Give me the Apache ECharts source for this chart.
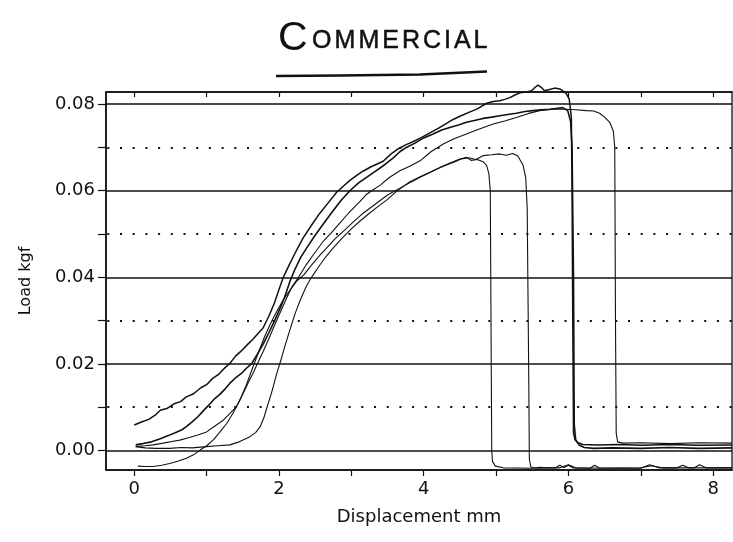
<!DOCTYPE html>
<html>
<head>
<meta charset="utf-8">
<title>Commercial – load vs displacement</title>
<script src="https://cdn.jsdelivr.net/npm/echarts@6/dist/echarts.min.js"></script>
<style>
  html, body { margin: 0; padding: 0; background: #fff; }
  #chart { width: 733px; height: 542px; }
</style>
</head>
<body>
<div id="chart"></div>
<script>
// Tensile runs: [displacement mm, load kgf]
const specimen1 = [[0.00,0.0059],[0.10,0.0066],[0.20,0.0072],[0.30,0.0083],[0.36,0.0093],[0.45,0.0097],[0.55,0.0108],[0.64,0.0113],[0.72,0.0124],[0.82,0.0131],[0.92,0.0145],[1.00,0.0152],[1.08,0.0166],[1.16,0.0175],[1.24,0.0189],[1.32,0.0201],[1.40,0.0218],[1.48,0.0230],[1.56,0.0244],[1.64,0.0257],[1.72,0.0272],[1.78,0.0283],[1.86,0.0310],[1.94,0.0342],[2.00,0.0372],[2.06,0.0400],[2.14,0.0428],[2.22,0.0455],[2.33,0.0490],[2.44,0.0518],[2.56,0.0547],[2.68,0.0572],[2.80,0.0597],[2.90,0.0612],[2.98,0.0624],[3.08,0.0636],[3.16,0.0645],[3.28,0.0656],[3.44,0.0668],[3.55,0.0685],[3.65,0.0697],[3.75,0.0706],[3.85,0.0713],[3.96,0.0722],[4.08,0.0733],[4.20,0.0744],[4.31,0.0755],[4.40,0.0764],[4.50,0.0772],[4.64,0.0782],[4.74,0.0789],[4.87,0.0802],[4.96,0.0806],[5.05,0.0808],[5.12,0.0811],[5.19,0.0815],[5.26,0.0821],[5.33,0.0826],[5.42,0.0828],[5.49,0.0831],[5.54,0.0839],[5.58,0.0844],[5.63,0.0838],[5.67,0.0831],[5.74,0.0834],[5.81,0.0837],[5.88,0.0835],[5.92,0.0831],[5.97,0.0824],[6.01,0.0812],[6.04,0.0770],[6.05,0.0600],[6.06,0.0300],[6.07,0.0040],[6.09,0.0025],[6.13,0.0018],[6.20,0.0014],[6.40,0.0013],[6.70,0.0014],[7.00,0.0012],[7.40,0.0014],[7.80,0.0012],[8.26,0.0013]];

const specimen2 = [[0.02,0.0013],[0.12,0.0016],[0.24,0.0020],[0.36,0.0027],[0.48,0.0035],[0.59,0.0043],[0.66,0.0048],[0.72,0.0055],[0.80,0.0066],[0.88,0.0078],[0.95,0.0091],[1.02,0.0103],[1.10,0.0118],[1.18,0.0129],[1.26,0.0143],[1.32,0.0155],[1.40,0.0168],[1.48,0.0178],[1.55,0.0190],[1.62,0.0200],[1.70,0.0222],[1.78,0.0245],[1.86,0.0272],[1.94,0.0300],[2.02,0.0330],[2.08,0.0355],[2.15,0.0390],[2.22,0.0418],[2.30,0.0446],[2.40,0.0472],[2.50,0.0497],[2.62,0.0525],[2.74,0.0552],[2.86,0.0578],[2.98,0.0600],[3.10,0.0618],[3.22,0.0632],[3.34,0.0646],[3.46,0.0660],[3.58,0.0676],[3.67,0.0690],[3.76,0.0700],[3.88,0.0710],[4.00,0.0722],[4.13,0.0731],[4.25,0.0740],[4.36,0.0746],[4.48,0.0752],[4.59,0.0758],[4.70,0.0762],[4.82,0.0767],[4.94,0.0770],[5.05,0.0773],[5.16,0.0776],[5.28,0.0779],[5.40,0.0783],[5.51,0.0785],[5.62,0.0787],[5.74,0.0788],[5.83,0.0790],[5.92,0.0792],[5.99,0.0785],[6.03,0.0760],[6.05,0.0700],[6.07,0.0400],[6.08,0.0060],[6.10,0.0025],[6.15,0.0012],[6.22,0.0007],[6.35,0.0005],[6.60,0.0006],[7.00,0.0005],[7.40,0.0007],[7.80,0.0005],[8.26,0.0006]];

const specimen3 = [[0.02,0.0009],[0.15,0.0011],[0.26,0.0013],[0.40,0.0017],[0.52,0.0021],[0.63,0.0024],[0.76,0.0030],[0.88,0.0036],[1.00,0.0043],[1.10,0.0055],[1.18,0.0064],[1.23,0.0070],[1.32,0.0085],[1.41,0.0101],[1.50,0.0130],[1.57,0.0155],[1.64,0.0178],[1.70,0.0200],[1.78,0.0228],[1.86,0.0258],[1.94,0.0290],[2.02,0.0320],[2.10,0.0350],[2.18,0.0378],[2.27,0.0400],[2.38,0.0430],[2.50,0.0458],[2.62,0.0485],[2.72,0.0502],[2.84,0.0525],[2.96,0.0548],[3.10,0.0572],[3.20,0.0590],[3.28,0.0600],[3.40,0.0613],[3.52,0.0630],[3.67,0.0646],[3.80,0.0656],[3.95,0.0669],[4.10,0.0690],[4.27,0.0708],[4.42,0.0720],[4.59,0.0731],[4.76,0.0742],[4.96,0.0754],[5.12,0.0761],[5.28,0.0769],[5.44,0.0778],[5.60,0.0785],[5.79,0.0788],[5.97,0.0788],[6.10,0.0787],[6.25,0.0785],[6.35,0.0784],[6.43,0.0779],[6.50,0.0770],[6.57,0.0758],[6.62,0.0738],[6.64,0.0700],[6.65,0.0300],[6.66,0.0040],[6.68,0.0020],[6.75,0.0017],[7.00,0.0018],[7.40,0.0016],[7.80,0.0018],[8.26,0.0017]];

const specimen4 = [[0.05,-0.0036],[0.15,-0.0037],[0.26,-0.0037],[0.38,-0.0034],[0.49,-0.0030],[0.60,-0.0025],[0.72,-0.0018],[0.82,-0.0010],[0.91,0.0001],[1.00,0.0011],[1.09,0.0024],[1.18,0.0042],[1.28,0.0063],[1.37,0.0088],[1.46,0.0116],[1.55,0.0152],[1.64,0.0193],[1.72,0.0228],[1.80,0.0262],[1.88,0.0292],[1.96,0.0318],[2.05,0.0345],[2.15,0.0370],[2.25,0.0392],[2.34,0.0405],[2.45,0.0428],[2.56,0.0450],[2.67,0.0470],[2.78,0.0490],[2.90,0.0508],[3.02,0.0527],[3.14,0.0545],[3.26,0.0560],[3.38,0.0575],[3.50,0.0590],[3.67,0.0606],[3.80,0.0618],[3.95,0.0631],[4.10,0.0643],[4.25,0.0656],[4.38,0.0665],[4.50,0.0673],[4.62,0.0676],[4.72,0.0672],[4.82,0.0681],[4.94,0.0683],[5.05,0.0685],[5.14,0.0682],[5.23,0.0686],[5.30,0.0680],[5.37,0.0660],[5.41,0.0630],[5.43,0.0560],[5.45,0.0200],[5.46,-0.0020],[5.48,-0.0038],[5.55,-0.0041],[5.70,-0.0040],[5.82,-0.0040],[5.88,-0.0034],[5.94,-0.0039],[6.00,-0.0034],[6.06,-0.0040],[6.30,-0.0041],[6.36,-0.0034],[6.42,-0.0040],[7.00,-0.0041],[7.12,-0.0033],[7.25,-0.0040],[7.50,-0.0040],[7.58,-0.0034],[7.66,-0.0040],[7.74,-0.0040],[7.81,-0.0033],[7.90,-0.0040],[8.26,-0.0040]];

const specimen5 = [[0.02,0.0009],[0.15,0.0006],[0.30,0.0005],[0.49,0.0005],[0.65,0.0007],[0.80,0.0006],[1.00,0.0009],[1.15,0.0011],[1.32,0.0013],[1.45,0.0020],[1.60,0.0032],[1.68,0.0042],[1.74,0.0055],[1.79,0.0075],[1.83,0.0097],[1.90,0.0135],[1.97,0.0178],[2.02,0.0205],[2.08,0.0240],[2.15,0.0278],[2.22,0.0315],[2.30,0.0350],[2.38,0.0380],[2.45,0.0400],[2.55,0.0425],[2.65,0.0448],[2.75,0.0468],[2.87,0.0490],[3.00,0.0512],[3.12,0.0530],[3.25,0.0548],[3.38,0.0565],[3.50,0.0580],[3.62,0.0598],[3.72,0.0610],[3.81,0.0621],[3.95,0.0632],[4.13,0.0646],[4.28,0.0657],[4.45,0.0668],[4.52,0.0674],[4.59,0.0677],[4.66,0.0670],[4.74,0.0672],[4.82,0.0667],[4.87,0.0658],[4.90,0.0640],[4.92,0.0600],[4.93,0.0300],[4.94,0.0000],[4.95,-0.0025],[4.99,-0.0036],[5.10,-0.0040],[5.50,-0.0041],[5.60,-0.0039],[5.70,-0.0040],[5.88,-0.0040],[6.00,-0.0033],[6.10,-0.0040],[6.50,-0.0041],[7.00,-0.0040],[7.15,-0.0035],[7.30,-0.0040],[8.26,-0.0040]];

// Axis ticks, labels and reference lines
const xLabelValues = [0, 2, 4, 6, 8];
const xTickValues = [0, 1, 2, 3, 4, 5, 6, 7, 8];
const yLabelValues = [0, 0.02, 0.04, 0.06, 0.08];
const yTickValues = [0, 0.01, 0.02, 0.03, 0.04, 0.05, 0.06, 0.07, 0.08];
const solidGridValues = [0, 0.02, 0.04, 0.06, 0.08];
const dottedGridValues = [0.01, 0.03, 0.05, 0.07];

const titleLetters = ['C', 'O', 'M', 'M', 'E', 'R', 'C', 'I', 'A', 'L'];
const xAxisName = 'Displacement mm';
const yAxisName = 'Load kgf';

const FONT = 'DejaVu Sans';
const TITLE_FONT = 'Liberation Sans';
const INK = '#111';

const chart = echarts.init(document.getElementById('chart'), null, { renderer: 'canvas' });

const titleText = titleLetters.map((ch, i) => (i === 0 ? '{big|' : '{s|') + ch + '}').join('');

function curve(name, data, width, clip) {
  return {
    name: name,
    type: 'line',
    data: data,
    showSymbol: false,
    symbol: 'none',
    clip: clip,
    lineStyle: { color: INK, width: width },
    silent: true,
    z: 3
  };
}

const option = {
  animation: false,
  backgroundColor: '#fff',
  title: {
    text: titleText,
    left: 273,
    top: 13,
    textStyle: {
      fontWeight: 'normal',
      rich: {
        big: { fontFamily: TITLE_FONT, fontSize: 41, fontWeight: 'normal', color: INK, padding: [0, 3, 0, 0], verticalAlign: 'bottom' },
        s: { fontFamily: TITLE_FONT, fontSize: 25, fontWeight: 'normal', color: INK, padding: [0, 1.5, 5, 1.5], verticalAlign: 'bottom',
             textBorderColor: INK, textBorderWidth: 0.5 }
      }
    }
  },
  graphic: [{
    type: 'polyline',
    shape: { points: [[276, 76], [340, 75.5], [420, 74.5], [487, 71.5]] },
    style: { stroke: INK, lineWidth: 2.4, fill: null }
  }],
  grid: {
    left: 106, right: 1, top: 92, bottom: 72,
    show: true, borderColor: INK, borderWidth: 1.3, backgroundColor: 'transparent'
  },
  xAxis: [{
    type: 'value', position: 'bottom', min: -0.39, max: 8.26,
    name: xAxisName, nameLocation: 'middle', nameGap: 38,
    nameTextStyle: { fontFamily: FONT, fontSize: 18, color: INK },
    axisLine: { show: true, onZero: false, lineStyle: { color: INK, width: 1.5 } },
    axisTick: { show: true, inside: false, length: 6, customValues: xTickValues, lineStyle: { color: INK, width: 1.2 } },
    axisLabel: { show: true, customValues: xLabelValues, fontFamily: FONT, fontSize: 18, color: INK, margin: 10,
                 formatter: v => String(v) },
    splitLine: { show: false }
  }, {
    type: 'value', position: 'top', min: -0.39, max: 8.26,
    axisLine: { show: true, onZero: false, lineStyle: { color: INK, width: 1.5 } },
    axisTick: { show: true, inside: true, length: 5, customValues: xTickValues, lineStyle: { color: INK, width: 1.2 } },
    axisLabel: { show: false },
    splitLine: { show: false }
  }],
  yAxis: [{
    type: 'value', position: 'left', min: -0.0045, max: 0.0828,
    name: yAxisName, nameLocation: 'middle', nameGap: 72,
    nameTextStyle: { fontFamily: FONT, fontSize: 16, color: INK },
    axisLine: { show: true, onZero: false, lineStyle: { color: INK, width: 1.6 } },
    axisTick: { show: true, inside: false, length: 8, customValues: yTickValues, lineStyle: { color: INK, width: 1.2 } },
    axisLabel: { show: true, customValues: yLabelValues, fontFamily: FONT, fontSize: 18, color: INK, margin: 11,
                 formatter: v => v.toFixed(2) },
    splitLine: { show: false }
  }],
  series: [
    {
      name: 'grid',
      type: 'line',
      data: [],
      silent: true,
      z: 1,
      markLine: {
        silent: true,
        symbol: ['none', 'none'],
        label: { show: false },
        animation: false,
        data: solidGridValues.map(v => ({ yAxis: v, lineStyle: { color: INK, width: 1.7, type: 'solid' } }))
          .concat(dottedGridValues.map(v => ({ yAxis: v, lineStyle: { color: INK, width: 2, type: [2, 10.7], dashOffset: -14 } })))
      }
    },
    curve('specimen 1', specimen1, 1.5, false),
    curve('specimen 2', specimen2, 1.6, true),
    curve('specimen 3', specimen3, 1.1, true),
    curve('specimen 4', specimen4, 1.1, true),
    curve('specimen 5', specimen5, 1.1, true)
  ]
};

chart.setOption(option);
</script>
</body>
</html>
